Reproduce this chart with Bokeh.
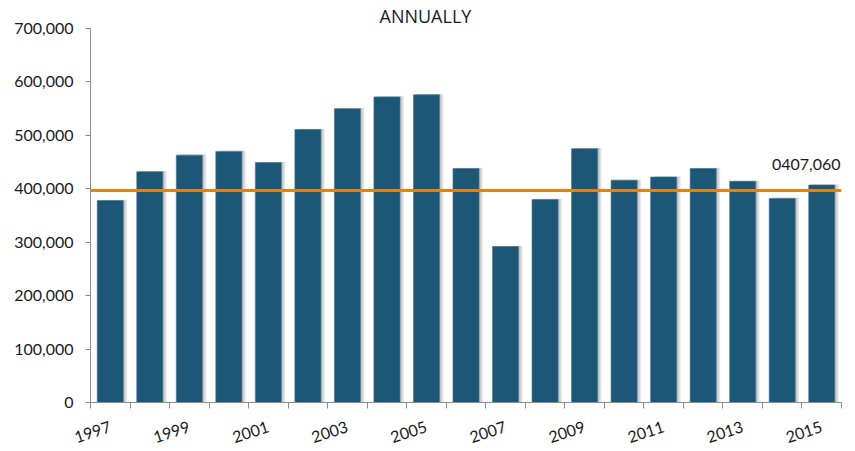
import math
from bokeh.plotting import figure
from bokeh.models import (Range1d, FixedTicker, NumeralTickFormatter, Span, Label,
                          ColumnDataSource)
from bokeh.embed import file_html
from bokeh.resources import INLINE

# ---- data ----
years = [str(y) for y in range(1997, 2016)]
values = [378000, 432000, 463000, 470000, 449000, 511000, 550000, 572000, 576000,
          438000, 292000, 380000, 475000, 416000, 422000, 438000, 414000, 382000, 407060]
reference_level = 397000
y_ticks = [0, 100000, 200000, 300000, 400000, 500000, 600000, 700000]
title_text = "ANNUALLY"
last_label = "0" + f"{values[-1]:,}"

# ---- layout ----
W, H = 855, 451
p = figure(width=W, height=H, output_backend="svg", toolbar_location=None,
           x_range=Range1d(0, len(years)), y_range=Range1d(0, 700000),
           min_border_left=90, min_border_right=14, min_border_top=28, min_border_bottom=49)
p.outline_line_color = None
p.xgrid.visible = False
p.ygrid.visible = False
p.background_fill_color = "white"
p.border_fill_color = "white"

p.title.text = title_text
p.title.align = "left"
p.title.offset = 289
p.title.standoff = 1
p.title.text_font = "Open Sans"
p.title.text_font_size = "18px"
p.title.text_font_style = "normal"
p.title.text_color = "#1a1a1a"

xs = [i + 0.5 for i in range(len(years))]
src = ColumnDataSource(dict(x=xs, top=values))

# shadow layers to the right of each bar
px = len(years) / 751.0
for k in range(1, 5):
    p.vbar(x=[x + k * px for x in xs], top=[v + 1500 * (k / 4) for v in values],
           width=0.66, fill_color="#6e6e6e", fill_alpha=0.13, line_color=None)

p.vbar(x="x", top="top", source=src, width=0.66, fill_color="#1d5778",
       line_color="#4a7896", line_width=1, line_alpha=0.6)

p.add_layout(Span(location=reference_level, dimension="width",
                  line_color="#e8800e", line_width=3))

# axes
p.yaxis.ticker = FixedTicker(ticks=y_ticks)
p.yaxis.formatter = NumeralTickFormatter(format="0,0")
p.yaxis.major_tick_out = 5
p.yaxis.major_tick_in = 0
p.yaxis.minor_tick_out = 0
p.yaxis.minor_tick_in = 0
p.yaxis.major_label_standoff = 12
p.yaxis.axis_line_color = "#8c8c8c"
p.yaxis.major_tick_line_color = "#8c8c8c"
p.yaxis.major_label_text_font = "Lato"
p.yaxis.major_label_text_font_size = "16px"
p.yaxis.major_label_text_color = "#1a1a1a"

label_pos = xs[::2]
p.xaxis.ticker = FixedTicker(ticks=label_pos, minor_ticks=list(range(len(years) + 1)))
p.xaxis.major_label_overrides = {xs[i]: years[i] for i in range(0, len(years), 2)}
p.xaxis.major_tick_out = 0
p.xaxis.major_tick_in = 0
p.xaxis.minor_tick_out = 6
p.xaxis.minor_tick_in = 0
p.xaxis.minor_tick_line_color = "#8c8c8c"
p.xaxis.axis_line_color = "#8c8c8c"
p.xaxis.major_label_orientation = math.radians(18)
p.xaxis.major_label_standoff = 18
p.xaxis.major_label_text_font = "Lato"
p.xaxis.major_label_text_font_size = "16px"
p.xaxis.major_label_text_color = "#1a1a1a"

# value label on the last bar
p.add_layout(Label(x=len(years), y=446000, text=last_label, text_align="right",
                   text_baseline="alphabetic", text_font="Lato", x_offset=-1,
                   text_font_size="16px", text_color="#1a1a1a"))

open("out.html", "w").write(file_html(p, INLINE))
